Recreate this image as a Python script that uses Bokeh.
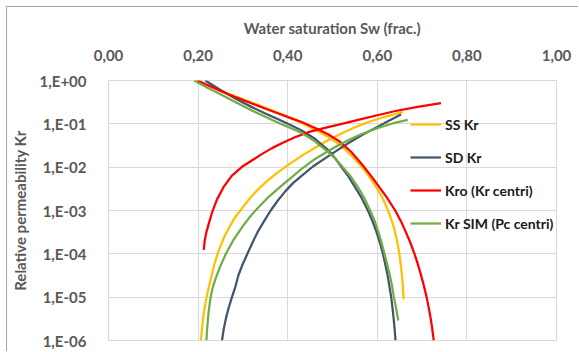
from bokeh.plotting import figure
from bokeh.models import FixedTicker, CustomJSTickFormatter, Legend, LegendItem
from bokeh.embed import file_html
from bokeh.resources import INLINE

# Axis ticks and their printed labels (decimal comma style)
x_ticks = [0.0, 0.2, 0.4, 0.6, 0.8, 1.0]
x_tick_labels = ["0,00", "0,20", "0,40", "0,60", "0,80", "1,00"]
y_ticks = [1e-6, 1e-5, 1e-4, 1e-3, 1e-2, 1e-1, 1.0]
y_tick_labels = ["1,E-06", "1,E-05", "1,E-04", "1,E-03", "1,E-02", "1,E-01", "1,E+00"]

# SS Kr
ss_sw_water = [0.206, 0.209, 0.2126, 0.217, 0.222, 0.2274, 0.236, 0.246, 0.258, 0.270,
               0.283, 0.300, 0.317, 0.335, 0.355, 0.375, 0.398, 0.431, 0.461, 0.490,
               0.520, 0.550, 0.580, 0.610, 0.638, 0.657]
ss_kr_water = [1.0e-6, 2.0e-6, 4.1e-6, 7.9e-6, 1.41e-5, 2.4e-5, 5.6e-5, 1.2e-4, 2.4e-4, 4.2e-4,
               7.1e-4, 1.2e-3, 2.0e-3, 3.16e-3, 4.9e-3, 7.2e-3, 1.07e-2, 1.82e-2, 2.8e-2, 4.2e-2,
               6.0e-2, 8.3e-2, 0.110, 0.138, 0.166, 0.186]
ss_sw_oil = [0.1926, 0.22, 0.25, 0.285, 0.32, 0.355, 0.3867, 0.41, 0.431, 0.46,
             0.49, 0.51, 0.527, 0.545, 0.56, 0.575, 0.59, 0.60, 0.609, 0.616,
             0.622, 0.629, 0.636, 0.641, 0.646, 0.650, 0.653, 0.6555, 0.657, 0.6585]
ss_kr_oil = [1.0, 0.776, 0.589, 0.427, 0.309, 0.224, 0.166, 0.132, 0.105, 0.0741,
             0.0501, 0.0363, 0.0263, 0.0174, 0.0117, 7.6e-3, 4.6e-3, 3.16e-3, 2.19e-3, 1.58e-3,
             1.12e-3, 7.2e-4, 4.4e-4, 2.75e-4, 1.58e-4, 8.9e-5, 5.0e-5, 2.8e-5, 1.78e-5, 8.9e-6]

# SD Kr
sd_sw_water = [0.2533, 0.257, 0.262, 0.268, 0.2756, 0.2835, 0.29, 0.299, 0.31, 0.321,
               0.333, 0.347, 0.362, 0.378, 0.395, 0.413, 0.431, 0.457, 0.49, 0.512,
               0.535, 0.564, 0.60, 0.627, 0.653]
sd_kr_water = [1.0e-6, 1.78e-6, 3.2e-6, 5.6e-6, 1.0e-5, 1.78e-5, 3.2e-5, 5.6e-5, 1.0e-4, 1.78e-4,
               3.2e-4, 5.6e-4, 1.0e-3, 1.7e-3, 2.8e-3, 4.4e-3, 6.3e-3, 0.0105, 0.0178, 0.0251,
               0.0355, 0.0537, 0.0851, 0.120, 0.164]
sd_sw_oil = [0.216, 0.233, 0.25, 0.285, 0.32, 0.35, 0.38, 0.405, 0.431, 0.46,
             0.49, 0.505, 0.52, 0.535, 0.55, 0.565, 0.579, 0.589, 0.598, 0.606,
             0.6126, 0.618, 0.623, 0.627, 0.631, 0.634, 0.6365, 0.6388, 0.6407]
sd_kr_oil = [1.0, 0.776, 0.603, 0.372, 0.243, 0.174, 0.126, 0.0955, 0.0702, 0.0457,
             0.0251, 0.0166, 0.010, 6.2e-3, 3.5e-3, 1.95e-3, 1.0e-3, 5.8e-4, 3.2e-4, 1.78e-4,
             1.0e-4, 5.6e-5, 3.2e-5, 1.78e-5, 1.0e-5, 5.6e-6, 3.2e-6, 1.78e-6, 1.0e-6]

# Kro (Kr centri)
kc_sw_water = [0.2126, 0.2148, 0.2185, 0.2237, 0.231, 0.242, 0.257, 0.275, 0.298, 0.327,
               0.342, 0.365, 0.3867, 0.416, 0.45, 0.49, 0.53, 0.564, 0.60, 0.638,
               0.69, 0.742]
kc_kr_water = [1.23e-4, 2.04e-4, 3.16e-4, 4.9e-4, 8.9e-4, 1.78e-3, 3.5e-3, 6.3e-3, 0.0102, 0.0158,
               0.020, 0.0275, 0.0355, 0.049, 0.066, 0.0838, 0.105, 0.129, 0.158, 0.195,
               0.245, 0.300]
kc_sw_oil = [0.198, 0.225, 0.25, 0.285, 0.32, 0.355, 0.3867, 0.41, 0.431, 0.46,
             0.49, 0.515, 0.542, 0.567, 0.594, 0.62, 0.64, 0.653, 0.663, 0.673,
             0.683, 0.690, 0.697, 0.703, 0.709, 0.714, 0.718, 0.722, 0.726]
kc_kr_oil = [1.0, 0.759, 0.575, 0.407, 0.295, 0.214, 0.162, 0.132, 0.110, 0.0813,
             0.0575, 0.0398, 0.0224, 0.0112, 4.9e-3, 2.09e-3, 1.0e-3, 5.6e-4, 3.3e-4, 1.9e-4,
             1.0e-4, 6.0e-5, 3.4e-5, 2.0e-5, 1.12e-5, 6.3e-6, 3.8e-6, 2.1e-6, 1.0e-6]

# Kr SIM (Pc centri)
sim_sw_water = [0.2185, 0.2200, 0.222, 0.2245, 0.228, 0.232, 0.238, 0.249, 0.262, 0.279,
                0.298, 0.313, 0.328, 0.357, 0.387, 0.41, 0.431, 0.461, 0.49, 0.512,
                0.535, 0.564, 0.60, 0.634, 0.668]
sim_kr_water = [1.0e-6, 1.78e-6, 3.2e-6, 5.6e-6, 1.0e-5, 1.58e-5, 2.5e-5, 5.0e-5, 1.0e-4, 2.1e-4,
                4.1e-4, 6.6e-4, 1.0e-3, 2.04e-3, 3.8e-3, 6.0e-3, 9.1e-3, 0.0155, 0.0234, 0.0316,
                0.0417, 0.0575, 0.0794, 0.102, 0.124]
sim_sw_oil = [0.191, 0.22, 0.25, 0.285, 0.32, 0.35, 0.38, 0.405, 0.431, 0.46,
              0.49, 0.507, 0.523, 0.54, 0.555, 0.570, 0.584, 0.594, 0.602, 0.609,
              0.616, 0.622, 0.628, 0.633, 0.637, 0.641, 0.6468]
sim_kr_oil = [1.0, 0.692, 0.479, 0.309, 0.204, 0.145, 0.105, 0.0813, 0.0617, 0.0398,
              0.0224, 0.0155, 0.010, 6.2e-3, 3.7e-3, 2.04e-3, 1.0e-3, 5.8e-4, 3.3e-4, 1.9e-4,
              1.0e-4, 5.8e-5, 3.2e-5, 1.78e-5, 1.0e-5, 6.3e-6, 2.9e-6]

series = [
    ("SS Kr", "#FFC000", ss_sw_water, ss_kr_water, ss_sw_oil, ss_kr_oil),
    ("SD Kr", "#44546A", sd_sw_water, sd_kr_water, sd_sw_oil, sd_kr_oil),
    ("Kro (Kr centri)", "#FF0000", kc_sw_water, kc_kr_water, kc_sw_oil, kc_kr_oil),
    ("Kr SIM (Pc centri)", "#70AD47", sim_sw_water, sim_kr_water, sim_sw_oil, sim_kr_oil),
]

FONT = "Lato"
GREY_TEXT = "#595959"
GRID = "#d9d9d9"

p = figure(
    width=572, height=345,
    x_range=(0, 1), y_range=(1e-6, 1.0),
    y_axis_type="log", x_axis_location="above",
    output_backend="svg", toolbar_location=None,
    min_border_left=99, min_border_right=23, min_border_top=73, min_border_bottom=12,
)
p.styles = {
    "margin-left": "6px", "margin-top": "6px",
    "border-left": "1px solid #a6a6a6", "border-top": "1px solid #a6a6a6",
}
p.background_fill_color = "white"
p.border_fill_color = "white"
p.outline_line_color = GRID
p.outline_line_width = 1

# label lookup shared by both axes: nearest listed tick -> its label
LOOKUP = """
let best = 0;
const f = (v) => use_log ? Math.log10(v) : v;
for (let i = 0; i < tvals.length; i++) {
  if (Math.abs(f(tvals[i]) - f(tick)) < Math.abs(f(tvals[best]) - f(tick))) best = i;
}
return tlabels[best];
"""

# x axis (drawn above the frame)
p.xaxis.ticker = FixedTicker(ticks=x_ticks)
p.xaxis.formatter = CustomJSTickFormatter(
    args=dict(tvals=x_ticks, tlabels=x_tick_labels, use_log=False), code=LOOKUP)
p.xaxis.axis_label = "Water saturation Sw (frac.)"

# y axis (log)
p.yaxis.ticker = FixedTicker(ticks=y_ticks)
p.yaxis.formatter = CustomJSTickFormatter(
    args=dict(tvals=y_ticks, tlabels=y_tick_labels, use_log=True), code=LOOKUP)
p.yaxis.axis_label = "Relative permeability Kr"

for ax in (p.xaxis[0], p.yaxis[0]):
    ax.axis_line_color = None
    ax.major_tick_line_color = None
    ax.minor_tick_line_color = None
    ax.major_label_text_font = FONT
    ax.major_label_text_font_style = "bold"
    ax.major_label_text_font_size = "15px"
    ax.major_label_text_color = GREY_TEXT
    ax.axis_label_text_font = FONT
    ax.axis_label_text_font_style = "bold"
    ax.axis_label_text_font_size = "15px"
    ax.axis_label_text_color = GREY_TEXT

p.xaxis.major_label_standoff = 14
p.xaxis.axis_label_standoff = 10
p.yaxis.major_label_standoff = 16
p.yaxis.axis_label_standoff = 8

p.xgrid.ticker = FixedTicker(ticks=x_ticks)
p.ygrid.ticker = FixedTicker(ticks=y_ticks)
p.xgrid.grid_line_color = GRID
p.ygrid.grid_line_color = GRID
p.xgrid.minor_grid_line_color = None
p.ygrid.minor_grid_line_color = None

items = []
for name, color, swx, krx, swo, kro in series:
    rw = p.line(swx, krx, line_color=color, line_width=2.25, line_join="round")
    p.line(swo, kro, line_color=color, line_width=2.25, line_join="round")
    items.append(LegendItem(label=name, renderers=[rw]))

legend = Legend(
    items=items, location=(302, 107),
    background_fill_alpha=0, border_line_color=None,
    padding=0, margin=0, spacing=13,
    glyph_width=31, glyph_height=20, label_height=20, label_standoff=4,
    label_text_font=FONT, label_text_font_style="bold",
    label_text_font_size="14px", label_text_color="#1a1a1a",
)
p.add_layout(legend)

open("out.html", "w").write(file_html(p, INLINE))
